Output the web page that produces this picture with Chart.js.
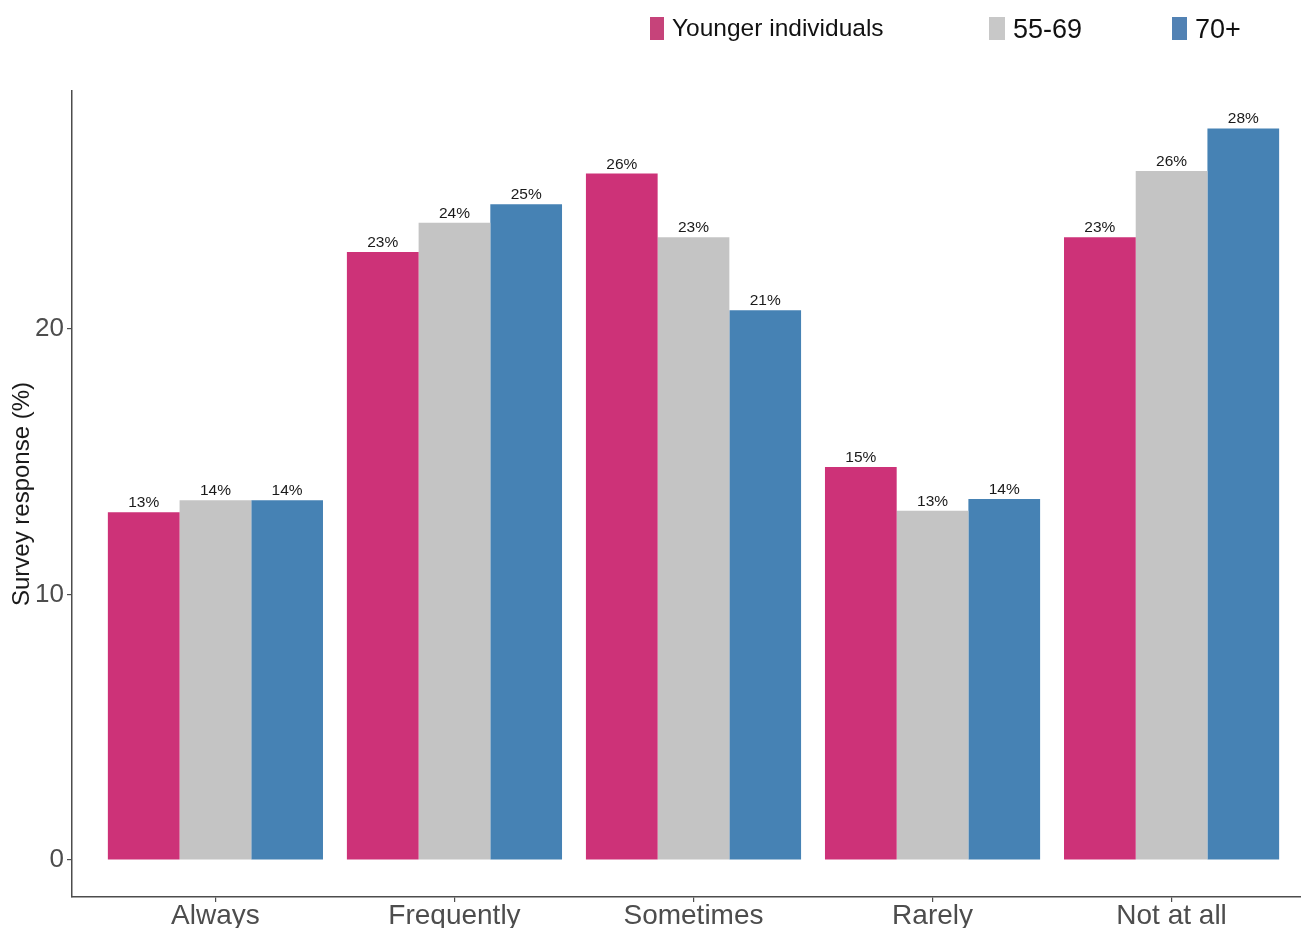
<!DOCTYPE html>
<html><head><meta charset="utf-8">
<script src="https://cdn.jsdelivr.net/npm/chart.js@4"></script>
<style>html,body{margin:0;padding:0;background:#fff;overflow:hidden;width:1301px;height:928px}canvas{display:block}</style>
</head><body>
<canvas id="c" width="1315" height="928" style="width:1315px;height:928px"></canvas>
<script>
const categories = ['Always', 'Frequently', 'Sometimes', 'Rarely', 'Not at all'];
const seriesNames = ['Younger individuals', '55-69', '70+'];
const younger = [13.1, 22.9, 25.85, 14.8, 23.45];
const age55_69 = [13.55, 24.0, 23.45, 13.15, 25.95];
const age70plus = [13.55, 24.7, 20.7, 13.6, 27.55];
const yTicks = [0, 10, 20];

const seriesValues = [younger, age55_69, age70plus];
const barColors = ['#CD3278', '#C4C4C4', '#4682B4'];
const legendColors = ['#C6437A', '#C8C8C8', '#5282B4'];
const FONT = '"Liberation Sans", Arial, sans-serif';

const labelsPlugin = {
  id: 'valueLabels',
  afterDatasetsDraw(chart) {
    const ctx = chart.ctx;
    ctx.save();
    ctx.font = '15.5px ' + FONT;
    ctx.fillStyle = '#1a1a1a';
    ctx.textAlign = 'center';
    ctx.textBaseline = 'alphabetic';
    chart.data.datasets.forEach((ds, k) => {
      chart.getDatasetMeta(k).data.forEach((el, i) => {
        ctx.fillText(Math.round(seriesValues[k][i]) + '%', el.x, el.y - 5);
      });
    });
    ctx.restore();
  }
};

const legendLayout = [
  {x: 650, w: 14, font: 24.5, ty: 29},
  {x: 989, w: 16, font: 27, ty: 31},
  {x: 1172, w: 15, font: 27, ty: 31}
];
const legendPlugin = {
  id: 'customLegend',
  afterDraw(chart) {
    const ctx = chart.ctx;
    ctx.save();
    seriesNames.forEach((name, k) => {
      const L = legendLayout[k];
      ctx.fillStyle = legendColors[k];
      ctx.fillRect(L.x, 17, L.w, 23);
      ctx.fillStyle = '#111';
      ctx.font = L.font + 'px ' + FONT;
      ctx.textAlign = 'left';
      ctx.textBaseline = 'middle';
      ctx.fillText(name, L.x + L.w + 8, L.ty);
    });
    ctx.restore();
  }
};

new Chart(document.getElementById('c').getContext('2d'), {
  type: 'bar',
  data: {
    datasets: seriesValues.map((vals, k) => ({
      label: seriesNames[k],
      data: vals.map((v, i) => ({x: i, y: v})),
      backgroundColor: barColors[k],
      borderWidth: 0,
      categoryPercentage: 0.9,
      barPercentage: 1.0
    }))
  },
  options: {
    responsive: false,
    animation: false,
    devicePixelRatio: 1,
    layout: {padding: {top: 91, left: 0, right: 0, bottom: 0}},
    plugins: {legend: {display: false}, tooltip: {enabled: false}},
    scales: {
      x: {
        type: 'linear', min: -0.6, max: 4.6, offset: false,
        afterBuildTicks: s => { s.ticks = categories.map((_, i) => ({value: i})); },
        afterFit: s => { s.height = 31; },
        ticks: {
          callback: v => categories[v],
          font: {family: FONT, size: 28, lineHeight: 1},
          color: '#4d4d4d', padding: 0, autoSkip: false, maxRotation: 0
        },
        grid: {drawOnChartArea: false, offset: false, tickLength: 5, color: '#4d4d4d', lineWidth: 1.2},
        border: {color: '#4d4d4d', width: 1.5}
      },
      y: {
        min: -1.39, max: 28.96,
        afterBuildTicks: s => { s.ticks = yTicks.map(v => ({value: v})); },
        afterFit: s => { s.width = 72; },
        ticks: {font: {family: FONT, size: 26}, color: '#4d4d4d', padding: 3},
        grid: {drawOnChartArea: false, tickLength: 5, color: '#4d4d4d', lineWidth: 1.2},
        border: {color: '#4d4d4d', width: 1.5},
        title: {display: true, text: 'Survey response (%)', font: {family: FONT, size: 24}, color: '#1a1a1a', padding: {top: 8, bottom: 0}}
      }
    }
  },
  plugins: [labelsPlugin, legendPlugin]
});
</script>
</body></html>
